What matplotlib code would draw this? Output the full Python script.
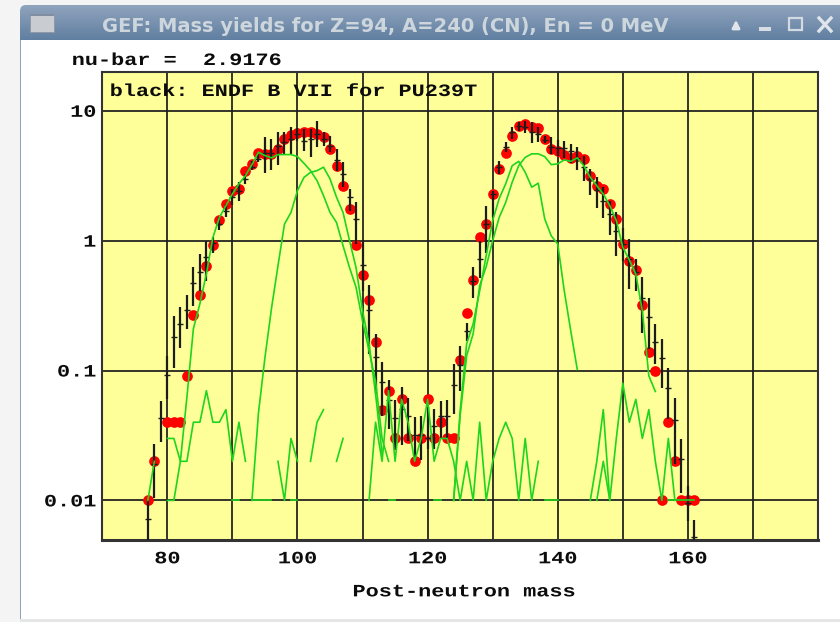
import numpy as np
import matplotlib
matplotlib.use("Agg")
import matplotlib.pyplot as plt
from matplotlib.patches import Rectangle, FancyBboxPatch
from matplotlib.patheffects import AbstractPathEffect
from matplotlib.transforms import Affine2D

nan = np.nan

# ---------- data ----------
red_mass = [77, 78] + list(range(80, 162))
red_yield = [.01, .02, .04, .04, .04, .09, .27, .38, .64, .92, 1.43, 1.9, 2.43, 2.5, 3.46, 3.87,
             4.77, 4.66, 4.66, 5.06, 6.03, 6.47, 6.76, 6.9, 6.9, 6.65, 6.25, 5.06, 3.76, 2.65,
             1.76, .93, .54, .35, .166, .05, .069, .03, .06, .03, .02, .03, .06, .03, .04, .03,
             .03, .12, .275, .494, 1.06, 1.34, 2.27, 3.57, 4.77, 6.42, 7.6, 7.95, 7.5, 7.37,
             6.03, 5.06, 4.88, 4.6, 4.34, 4.52, 4.26, 3.15, 2.62, 2.52, 1.92, 1.47, .94, .70,
             .59, .32, .14, .1, .01, .04, .02, .01, .01, .01]

endf_mass = list(range(77, 162))
endf_yield = [.0072, .019, .0428, .0926, .182, .23, .292, .469, .574, .743, .953, 1.34, 1.70, 2.16,
              2.43, 2.99, 3.72, 4.26, 4.75, 4.75, 5.31, 5.72, 6.07, 6.65, 5.9, 6.07, 6.65, 6.07,
              5.4, 4.2, 3.27, 2.16, 1.47, .65, .292, .128, .0822, .0592, .0428, .0503, .0443,
              .0319, .0319, .0303, .0371, .0443, .0443, .0776, .111, .2, .49, .722, 1.34, 2.29,
              3.68, 5.25, 6.85, 7.6, 7.55, 6.85, 6.65, 6.0, 5.25, 5.18, 5.18, 4.94, 4.34, 3.68,
              2.99, 2.46, 2.01, 1.61, 1.19, .94, .722, .577, .359, .259, .167, .125, .073, .0417,
              .0207, .0096, .0052]
endf_high = [.01, .0271, .0584, .13, .261, .311, .383, .63, .79, 1.0, 1.07, 1.51, 1.92, 2.5,
             2.82, 3.27, 4.08, 4.66, 6.25, 6.07, 6.85, 6.85, 7.48, 7.4, 7.25, 7.25, 8.4, 6.85,
             6.45, 5.1, 4.0, 2.5, 1.97, 1.0, .458, .192, .117, .0848, .0593, .0741, .0619,
             .0435, .0448, .052, .0505, .0584, .0598, .112, .155, .232, .63, 1.0, 1.86, 2.43,
             4.14, 5.72, 7.48, 8.17, 8.4, 8.17, 7.5, 6.45, 6.25, 6.0, 5.82, 5.56, 5.25, 4.46,
             3.57, 3.08, 2.58, 2.03, 1.65, 1.25, 1.03, .722, .528, .359, .23, .175, .105, .0619,
             .0296, .013, .0071]
endf_low = [.005, .0104, .0281, .06, .105, .15, .208, .315, .41, .49, .81, 1.21, 1.51, 1.88,
            2.01, 2.74, 3.51, 4.02, 3.30, 3.51, 3.85, 4.66, 4.66, 5.9, 4.94, 4.44, 5.25, 5.4,
            4.8, 3.46, 2.58, 1.70, .94, .41, .134, .066, .0448, .0354, .0243, .0268, .0288,
            .0206, .0204, .025, .0247, .0296, .0296, .0461, .0696, .169, .365, .516, .81, 1.51,
            3.27, 4.8, 6.07, 6.97, 6.72, 5.63, 5.8, 5.63, 4.66, 4.5, 4.34, 3.97, 3.51, 2.87,
            2.25, 1.79, 1.49, 1.11, .757, .7, .424, .411, .196, .146, .112, .073, .042, .019,
            .0115, .007, .005]

light_s2_mass = list(range(80, 115))
light_s2 = [.01, .01, .02, .062, .21, .327, .557, 1.06, 1.51, 1.86, 2.29, 2.74, 3.17, 3.85, 4.8,
            4.52, 4.34, 4.6, 4.6, 4.6, 4.44, 3.94, 3.46, 2.9, 2.22, 1.65, 1.38, .915, .62, .437,
            .24, .142, .083, .03, .02]

light_s1_mass = list(range(93, 114))
light_s1 = [.01, .047, .126, .3, .64, 1.34, 1.65, 2.43, 3.07, 3.36, 3.46, 3.68, 2.99, 2.16, 1.65,
            1.0, .62, .289, .161, .066, .023]

heavy_s1_mass = list(range(124, 144))
heavy_s1 = [.01, .049, .161, .229, .41, .766, 1.43, 2.11, 2.74, 3.78, 4.08, 3.36, 2.58, 2.77,
            1.47, 1.09, .943, .411, .202, .102]

heavy_s2_mass = list(range(124, 156))
heavy_s2 = [.01, .045, .13, .192, .45, .63, 1.0, 1.51, 1.97, 2.82, 3.78, 4.38, 4.66, 4.66, 4.44,
            3.85, 3.9, 4.19, 4.08, 4.34, 3.78, 3.07, 2.65, 2.29, 1.86, 1.43, .89, .71, .553, .289,
            .091, .069]

sl_mass = list(range(77, 138))
sl_yield = [.01, .02, nan, .03, .03, .02, .02, .04, .04, .07, .04, .04, .05, .02, .04, .02,
            nan, nan, nan, nan, .02, .01, .03, .02, nan, .02, .04, .05, nan, .02, .03, nan, nan, nan,
            .01, .04, .02, .07, .02, .06, .04, .02, .03, .06, .02, .03, .03, .02, .01, .02, .01, .04,
            .01, .02, .03, .04, .03, .01, .03, .01, .02]

tail_a_mass = [145, 146, 147, 148]
tail_a = [.01, .02, .05, .01]

tail_b_mass = list(range(146, 159))
tail_b = [.01, .02, .01, .03, .08, .04, .06, .03, .05, .02, .01, .03, .01]

floor_mass = [90, 91, nan, 93, 94, 95, 96, nan, 99, 100, nan, 114, 115, nan, 121, 122, nan,
              138, 139, 140, nan, 157, 158, 159, 160, 161]
floor_yield = [.01 if m == m else nan for m in floor_mass]

x_ticks = list(range(80, 171, 10))
x_labels = ["80", "", "100", "", "120", "", "140", "", "160", ""]
y_ticks = [.01, .1, 1, 10]
y_labels = ["0.01", "0.1", "1", "10"]

TITLE = "GEF: Mass yields for Z=94, A=240 (CN), En = 0 MeV"
NUBAR = "nu-bar =  2.9176"
LEGEND = "black: ENDF B VII for PU239T"
XLABEL = "Post-neutron mass"

W, H = 840, 622
YELLOW = "#ffff99"
GREEN = "#1fd41f"
DARK = "#1c1c1c"


class XStretch(AbstractPathEffect):
    """Widen a text horizontally around one of its edges (the terminal font is wide)."""
    def __init__(self, sx, anchor="left"):
        super().__init__()
        self.sx, self.anchor = sx, anchor

    def draw_path(self, renderer, gc, tpath, affine, rgbFace=None):
        e = tpath.get_extents()
        x0 = {"left": e.x0, "center": (e.x0 + e.x1) / 2, "right": e.x1}[self.anchor]
        t = Affine2D().translate(-x0, 0).scale(self.sx, 1).translate(x0, 0) + affine
        renderer.draw_path(gc, tpath, t, rgbFace)


fig = plt.figure(figsize=(W / 100, H / 100), dpi=100, facecolor="#f4f4f4")

# ---------- window decoration ----------
bg = fig.add_axes([0, 0, 1, 1], zorder=0)
bg.set_xlim(0, W)
bg.set_ylim(H, 0)
bg.axis("off")
bg.add_patch(Rectangle((20, 38), W - 20, H - 38 - 3, fc="white", ec="none"))
bg.add_patch(Rectangle((20, 38), 1.2, H - 38 - 3, fc="#8aa2bb", ec="none"))
bg.add_patch(Rectangle((20, H - 3), W - 20, 3, fc="#e6e6e6", ec="none"))
grad = np.linspace(0, 1, 36)[:, None, None]
top = np.array([0.56, 0.64, 0.74])[None, None, :]
bot = np.array([0.38, 0.50, 0.63])[None, None, :]
im = bg.imshow(top * (1 - grad) + bot * grad, extent=(20, W, 40, 5), aspect="auto", zorder=1)
bg.set_xlim(0, W)
bg.set_ylim(H, 0)
clip = FancyBboxPatch((20, 5), W, 60, boxstyle="round,pad=0,rounding_size=6",
                      fc="none", ec="none", transform=bg.transData)
bg.add_patch(clip)
im.set_clip_path(clip)
bg.add_patch(Rectangle((30, 14), 24, 18, fc="#c9cdd2", ec="#8b97a5", lw=0.6, zorder=2))
bg.add_patch(Rectangle((30, 14), 24, 2, fc="#7f8ea0", ec="none", zorder=3))
bg.text(385, 26, TITLE, ha="center", va="center", color="#cdd5dd", fontsize=14,
        fontweight="bold", family="DejaVu Sans", zorder=4)
bg.annotate("", xy=(736, 17), xytext=(736, 31), zorder=4,
            arrowprops=dict(arrowstyle="-|>", color="#dfe5ea", lw=2, mutation_scale=11))
bg.add_patch(Rectangle((759, 27), 12, 4, fc="#d8dde3", ec="none", zorder=4))
bg.add_patch(Rectangle((789, 18), 13, 12, fc="none", ec="#d3dae1", lw=1.6, zorder=4))
bg.plot([819, 831], [18, 31], color="#dfe5ea", lw=2.4, zorder=4)
bg.plot([831, 819], [18, 31], color="#dfe5ea", lw=2.4, zorder=4)

# ---------- plot ----------
L, R, T, B = 102.3, 818, 71.7, 539.5
ax = fig.add_axes([L / W, 1 - B / H, (R - L) / W, (B - T) / H], zorder=1)
ax.set_facecolor(YELLOW)
ax.set_yscale("log")
ax.set_xlim(70, 180)
ax.set_ylim(.005, 20)
ax.minorticks_off()
ax.set_xticks(x_ticks, labels=x_labels)
ax.set_yticks(y_ticks, labels=y_labels)
ax.tick_params(axis="both", which="both", length=0)
ax.tick_params(axis="x", pad=8.5)
ax.tick_params(axis="y", pad=4.5)
ax.grid(True, color=DARK, lw=1.25, zorder=1)
ax.set_axisbelow(True)
for s in ax.spines.values():
    s.set_color("#333333")
    s.set_linewidth(1.5)
ax.spines["bottom"].set_linewidth(2.2)

ax.plot(red_mass, red_yield, ls="none", marker="o", ms=7.7, mfc="#ff0000", mec="#ff0000",
        mew=0, zorder=3)

yv = np.array(endf_yield)
ax.errorbar(endf_mass, yv, yerr=[yv - np.array(endf_low), np.array(endf_high) - yv], fmt="none",
            ecolor=DARK, elinewidth=1.6, capsize=0, zorder=4)
ax.plot(endf_mass, yv, ls="none", marker="_", ms=5, mew=1.0, color=DARK, zorder=4)

for mx, my in [(light_s2_mass, light_s2), (light_s1_mass, light_s1), (heavy_s1_mass, heavy_s1),
               (heavy_s2_mass, heavy_s2), (sl_mass, sl_yield), (tail_a_mass, tail_a),
               (tail_b_mass, tail_b), (floor_mass, floor_yield)]:
    ax.plot(mx, my, color=GREEN, lw=1.2, zorder=5)

# ---------- terminal-style text ----------
FONT = dict(family="Liberation Mono", fontweight="bold", color="#0c0c0c", fontsize=12.5)
SX = 1.26
for lab in ax.get_xticklabels():
    lab.set(**FONT)
    lab.set_path_effects([XStretch(SX, "center")])
for lab in ax.get_yticklabels():
    lab.set(**FONT)
    lab.set_path_effects([XStretch(SX, "right")])
ax.set_xlabel(XLABEL, labelpad=13, x=0.505, **FONT)
ax.xaxis.label.set_path_effects([XStretch(SX, "center")])
t1 = fig.text(72 / W, 1 - 65 / H, NUBAR, ha="left", va="baseline", **FONT)
t1.set_path_effects([XStretch(SX, "left")])
t2 = fig.text(110 / W, 1 - 96 / H, LEGEND, ha="left", va="baseline", zorder=6, **FONT)
t2.set_path_effects([XStretch(SX, "left")])

fig.savefig("out.png", dpi=100, facecolor=fig.get_facecolor())
